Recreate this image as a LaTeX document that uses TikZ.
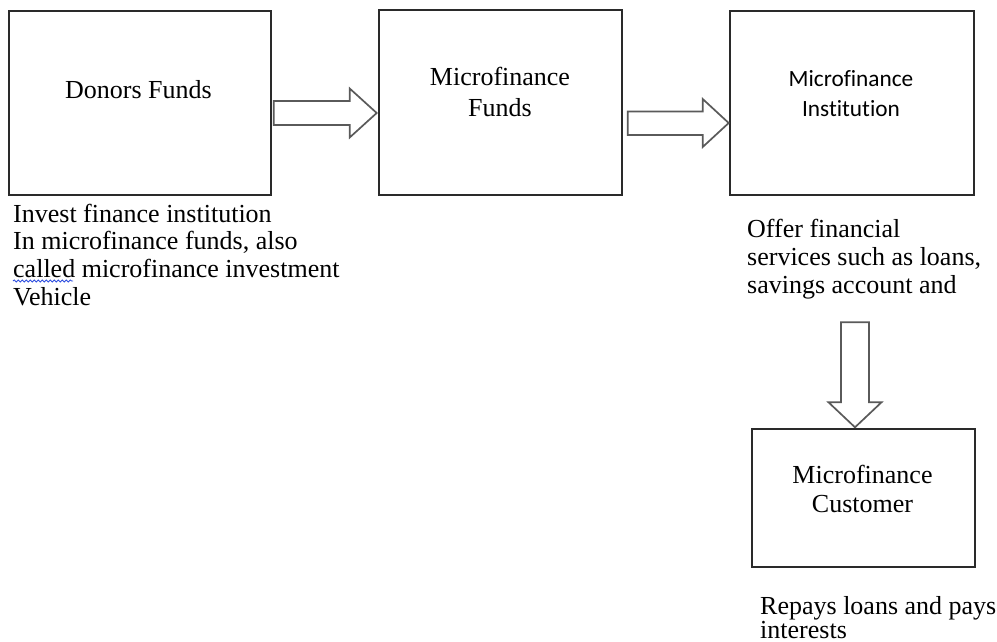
\documentclass[tikz,border=0pt]{standalone}
\usepackage{fontspec}
\setmainfont{Liberation Serif}
\newfontfamily\calibrifont[Ligatures=NoCommon]{Carlito}
\usetikzlibrary{calc,decorations.pathmorphing}
\definecolor{boxline}{HTML}{2A2A2A}
\definecolor{arrowline}{HTML}{5A5A5A}
\definecolor{spellblue}{HTML}{3050E0}
\begin{document}
\begin{tikzpicture}[x=1pt,y=-1pt,
  box/.style={draw=boxline, line width=1.4pt, inner sep=0pt},
  boxlabel/.style={anchor=base, inner sep=0pt, font=\fontsize{26}{31}\selectfont},
  note/.style={anchor=base west, inner sep=0pt},
  barrow/.style={draw=arrowline, line width=1.7pt, line join=miter, fill=white}]
\fill[white] (0,0) rectangle (997,642);
\useasboundingbox (0,0) rectangle (997,642);

% boxes
\node[box, minimum width=262pt, minimum height=184pt] (donors) at (140,103) {};
\node[box, minimum width=243pt, minimum height=185pt] (mfunds) at (500.5,102.5) {};
\node[box, minimum width=244pt, minimum height=184pt] (minst) at (852,103) {};
\node[box, minimum width=223pt, minimum height=138pt] (mcust) at (863.5,498) {};

% box labels
\node[boxlabel] (donorsT) at (138.5,99) {Donors Funds};
\node[boxlabel] (mfundsT) at (500,86) {\vtop{\halign{\hfil#\hfil\cr Microfinance\cr Funds\cr}}};
\node[boxlabel, font=\calibrifont\fontsize{23.3}{30}\selectfont] (minstT) at (851,87) {\vtop{\halign{\hfil#\hfil\cr Microfinance\cr Institution\cr}}};
\node[boxlabel, font=\fontsize{26}{29}\selectfont] (mcustT) at (862.5,483) {\vtop{\halign{\hfil#\hfil\cr Microfinance\cr Customer\cr}}};

% block arrows
\coordinate (a1) at ($(donors.east)+(2,10)$);
\draw[barrow] (a1) ++(0,-12) -- ++(76,0) -- ++(0,-12.5) -- ++(27,24.5) -- ++(-27,24.5) -- ++(0,-12.5) -- ++(-76,0) -- cycle;
\coordinate (a2) at ($(mfunds.east)+(5,20.5)$);
\draw[barrow] (a2) ++(0,-11.5) -- ++(75,0) -- ++(0,-12.5) -- ++(26,24) -- ++(-26,24) -- ++(0,-12) -- ++(-75,0) -- cycle;
\coordinate (a3) at ($(mcust.north)+(-8.5,-1)$);
\draw[barrow] (a3) -- ++(-26.5,-25) -- ++(12.5,0) -- ++(0,-80) -- ++(28,0) -- ++(0,80) -- ++(12.5,0) -- cycle;

% notes
\node[note, font=\fontsize{26}{27.7}\selectfont] (noteL) at (13,222) {\vtop{\hbox{Invest finance institution}\hbox{In microfinance funds, also}\hbox{called microfinance investment}\hbox{Vehicle}}};
\node[note, font=\fontsize{26}{28}\selectfont] (noteR) at (747,237) {\vtop{\hbox{Offer financial}\hbox{services such as loans,}\hbox{savings account and}}};
\node[note, font=\fontsize{26}{24}\selectfont] (noteB) at (760,614) {\vtop{\hbox{Repays loans and pays}\hbox{interests}}};

% spell-check underline
\draw[spellblue, line width=0.8pt, decorate, decoration={snake, amplitude=1.1pt, segment length=4pt}] (13,281) -- (73,281);
\end{tikzpicture}
\end{document}
